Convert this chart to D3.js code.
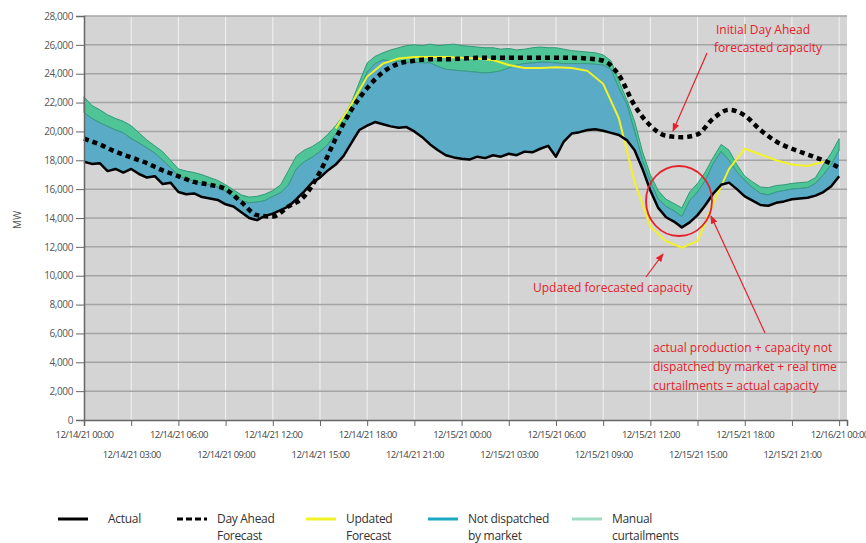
<!DOCTYPE html>
<html>
<head>
<meta charset="utf-8">
<script src="https://cdn.jsdelivr.net/npm/d3@7"></script>
<style>
  body { margin: 0; background: #fff; }
  svg { display: block; }
</style>
</head>
<body>
<svg id="chart" width="866" height="543"></svg>
<script>
// half-hourly readings, 12/14/21 00:00 .. 12/16/21 00:00
var actual = [17900, 17750, 17800, 17250, 17400, 17150, 17400, 17050, 16800, 16900,
  16350, 16450, 15800, 15650, 15700, 15450, 15350, 15250, 14950, 14800,
  14400, 14000, 13850, 14150, 14300, 14550, 14800, 15300, 15850, 16450,
  16800, 17300, 17700, 18300, 19200, 20100, 20400, 20650, 20500, 20350,
  20250, 20300, 20000, 19600, 19100, 18700, 18350, 18200, 18100, 18050,
  18250, 18150, 18350, 18250, 18450, 18350, 18600, 18550, 18800, 19000,
  18250, 19300, 19850, 19950, 20100, 20150, 20050, 19900, 19750, 19400,
  18700, 17400, 15900, 14700, 14050, 13750, 13350, 13700, 14200, 14900,
  15700, 16300, 16450, 16000, 15500, 15200, 14900, 14850, 15050, 15150,
  15300, 15350, 15400, 15550, 15800, 16200, 16900];

// actual + capacity not dispatched by market
var notDispatched = [21300, 20900, 20600, 20350, 20100, 19900, 19500, 19200, 18850, 18500,
  18000, 17500, 16900, 16700, 16550, 16400, 16300, 16150, 15850, 15500,
  15200, 15050, 15100, 15200, 15500, 15750, 16300, 17400, 17900, 18200,
  18600, 19100, 19800, 20500, 21300, 22800, 24100, 24700, 24950, 24900,
  24850, 24800, 24800, 24750, 24750, 24500, 24300, 24250, 24200, 24150,
  24100, 24050, 24100, 24200, 24400, 24600, 24700, 24750, 24800, 24800,
  24750, 24700, 24700, 24700, 24700, 24650, 24600, 24300, 23000, 21900,
  20000, 18000, 16500, 15300, 14800, 14500, 14100, 15200, 15800, 16600,
  17800, 18600, 18000, 17200, 16600, 16100, 15700, 15600, 15800, 15900,
  16000, 16050, 16100, 16400, 17000, 17700, 18700];

// + manual curtailments (actual capacity)
var manual = [22400, 21800, 21500, 21150, 20900, 20700, 20400, 19900, 19400, 19000,
  18600, 18000, 17400, 17250, 17150, 17000, 16800, 16600, 16300, 15950,
  15600, 15450, 15500, 15650, 15900, 16300, 17300, 18300, 18700, 18950,
  19300, 19800, 20400, 21100, 22000, 23400, 24750, 25200, 25450, 25650,
  25800, 25950, 26000, 25950, 26050, 25950, 26000, 26050, 25950, 25900,
  25850, 25800, 25800, 25700, 25750, 25650, 25700, 25800, 25850, 25800,
  25800, 25700, 25600, 25550, 25500, 25450, 25300, 24900, 23500, 22200,
  20700, 18600, 17000, 15900, 15300, 15000, 14700, 15800, 16400, 17200,
  18200, 19100, 18700, 17700, 16900, 16500, 16150, 16100, 16250, 16300,
  16400, 16450, 16500, 16800, 17700, 18500, 19500];

// hourly day ahead forecast
var dayAhead = [19500, 19100, 18600, 18200, 17800, 17300, 16900, 16500, 16300, 16000,
  15100, 14200, 14100, 14800, 15500, 17200, 19500, 21500, 23000, 24100,
  24700, 24900, 25000, 25000, 25050, 25100, 25100, 25100, 25100, 25100,
  25100, 25100, 25050, 24900, 23900, 21800, 20400, 19700, 19600, 19800,
  20900, 21500, 21100, 20100, 19300, 18800, 18400, 18000, 17500];

// hourly updated forecast, from hour 16 to hour 47
var updatedStart = 16;
var updated = [20200, 21900, 23800, 24700, 25050, 25150, 25150, 25150, 25100, 25050,
  24950, 24600, 24400, 24400, 24450, 24400, 24200, 23300, 20900, 16500,
  13400, 12400, 11950, 12400, 15000, 17400, 18800, 18400, 18000, 17700,
  17600, 17900];

var yTicks = [0, 2000, 4000, 6000, 8000, 10000, 12000, 14000, 16000, 18000, 20000, 22000, 24000, 26000, 28000];

var legendItems = [
  { label: ["Actual"], color: "#000", dash: null },
  { label: ["Day Ahead", "Forecast"], color: "#000", dash: "6,3" },
  { label: ["Updated", "Forecast"], color: "#f2f226", dash: null },
  { label: ["Not dispatched", "by market"], color: "#1aa9c1", dash: null },
  { label: ["Manual", "curtailments"], color: "#9fdcc2", dash: null }
];

var svg = d3.select("#chart");
var start = new Date(2021, 11, 14, 0, 0);
function hour(h) { return new Date(start.getTime() + h * 3600000); }

var x = d3.scaleTime().domain([start, hour(48.5)]).range([84, 847]);
var y = d3.scaleLinear().domain([0, 28000]).range([420, 16]);

// plot background
svg.append("rect")
  .attr("x", 84).attr("y", 16)
  .attr("width", 847 - 84).attr("height", 420 - 16)
  .attr("fill", "#d4d4d4");

// vertical grid (white)
var xTicks = d3.range(0, 49, 3).map(hour);
svg.append("g")
  .selectAll("line")
  .data(xTicks.slice(1))
  .enter()
  .append("line")
  .attr("x1", function (d) { return x(d); })
  .attr("x2", function (d) { return x(d); })
  .attr("y1", 16).attr("y2", 420)
  .attr("stroke", "#f2f2f2")
  .attr("stroke-width", 1);

// horizontal grid
svg.append("g")
  .selectAll("line")
  .data(yTicks.slice(1))
  .enter()
  .append("line")
  .attr("x1", 84).attr("x2", 847)
  .attr("y1", function (d) { return y(d); })
  .attr("y2", function (d) { return y(d); })
  .attr("stroke", "#a4a4a4")
  .attr("stroke-width", 1.5);

var rows = actual.map(function (a, i) {
  return { t: hour(i / 2), actual: a, nd: notDispatched[i], man: manual[i] };
});

// manual curtailments band
svg.append("path")
  .datum(rows)
  .attr("d", d3.area()
    .x(function (d) { return x(d.t); })
    .y0(function (d) { return y(d.nd); })
    .y1(function (d) { return y(d.man); }))
  .attr("fill", "#4fc497")
  .attr("stroke", "#2f9a7a")
  .attr("stroke-width", 1);

// not dispatched band
svg.append("path")
  .datum(rows)
  .attr("d", d3.area()
    .x(function (d) { return x(d.t); })
    .y0(function (d) { return y(d.actual); })
    .y1(function (d) { return y(d.nd); }))
  .attr("fill", "#5aabc6");

svg.append("path")
  .datum(rows)
  .attr("d", d3.line()
    .x(function (d) { return x(d.t); })
    .y(function (d) { return y(d.nd); }))
  .attr("fill", "none")
  .attr("stroke", "#3a9a86")
  .attr("stroke-width", 1);

// updated forecast
svg.append("path")
  .datum(updated)
  .attr("d", d3.line()
    .x(function (d, i) { return x(hour(updatedStart + i)); })
    .y(function (d) { return y(d); }))
  .attr("fill", "none")
  .attr("stroke", "#f2f226")
  .attr("stroke-width", 2);

// day ahead forecast
svg.append("path")
  .datum(dayAhead)
  .attr("d", d3.line()
    .curve(d3.curveMonotoneX)
    .x(function (d, i) { return x(hour(i)); })
    .y(function (d) { return y(d); }))
  .attr("fill", "none")
  .attr("stroke", "#000")
  .attr("stroke-width", 4.5)
  .attr("stroke-dasharray", "5,4");

// actual
svg.append("path")
  .datum(rows)
  .attr("d", d3.line()
    .x(function (d) { return x(d.t); })
    .y(function (d) { return y(d.actual); }))
  .attr("fill", "none")
  .attr("stroke", "#000")
  .attr("stroke-width", 2.5)
  .attr("stroke-linejoin", "round");

// y axis
var yAxis = svg.append("g")
  .attr("transform", "translate(84,0)")
  .call(d3.axisLeft(y).tickValues(yTicks).tickSize(8).tickFormat(d3.format(",")));
yAxis.select(".domain").attr("stroke", "#666").attr("stroke-width", 1.5);
yAxis.selectAll(".tick line").attr("stroke", "#666");
yAxis.selectAll("text")
  .attr("fill", "#555")
  .style("font-family", "Open Sans")
  .style("font-size", "10px")
  .style("letter-spacing", "-0.4px");

// x axis
var xAxis = svg.append("g")
  .attr("transform", "translate(0,420)")
  .call(d3.axisBottom(x).tickValues(xTicks).tickSize(6).tickFormat(d3.timeFormat("%m/%d/%y %H:%M")));
xAxis.select(".domain").attr("stroke", "#666").attr("stroke-width", 1.5);
xAxis.selectAll(".tick line").attr("stroke", "#666");
xAxis.selectAll("text")
  .attr("fill", "#444")
  .attr("y", function (d, i) { return i % 2 === 0 ? 11 : 31; })
  .style("font-family", "Open Sans")
  .style("font-size", "9.5px")
  .style("letter-spacing", "-0.6px");

svg.append("text")
  .attr("transform", "translate(21,220) rotate(-90)")
  .attr("text-anchor", "middle")
  .attr("fill", "#555")
  .style("font-family", "Open Sans")
  .style("font-size", "10px")
  .text("MW");

// annotations
var red = "#e5202a";
svg.append("defs").append("marker")
  .attr("id", "arrow")
  .attr("viewBox", "0 0 10 10")
  .attr("refX", 9).attr("refY", 5)
  .attr("markerWidth", 7).attr("markerHeight", 7)
  .attr("orient", "auto")
  .append("path")
  .attr("d", "M0,1 L10,5 L0,9 z")
  .attr("fill", red);

var arrows = [[707, 53, 673, 131], [646, 277, 663, 254], [765, 333, 711, 216]];
svg.append("g")
  .selectAll("line")
  .data(arrows)
  .enter()
  .append("line")
  .attr("x1", function (d) { return d[0]; })
  .attr("y1", function (d) { return d[1]; })
  .attr("x2", function (d) { return d[2]; })
  .attr("y2", function (d) { return d[3]; })
  .attr("stroke", red)
  .attr("stroke-width", 1.2)
  .attr("marker-end", "url(#arrow)");

svg.append("ellipse")
  .attr("cx", 679).attr("cy", 201)
  .attr("rx", 33).attr("ry", 35)
  .attr("fill", "none")
  .attr("stroke", red)
  .attr("stroke-width", 1.8);

var notes = [
  { x: 716, y: 34, t: "Initial Day Ahead" },
  { x: 714, y: 52, t: "forecasted capacity" },
  { x: 533, y: 292, t: "Updated forecasted capacity" },
  { x: 653, y: 352, t: "actual production + capacity not" },
  { x: 653, y: 371, t: "dispatched by market + real time" },
  { x: 653, y: 390, t: "curtailments = actual capacity" }
];
svg.append("g")
  .selectAll("text")
  .data(notes)
  .enter()
  .append("text")
  .attr("x", function (d) { return d.x; })
  .attr("y", function (d) { return d.y; })
  .attr("fill", red)
  .style("font-family", "Open Sans")
  .style("font-size", "12px")
  .text(function (d) { return d.t; });

// legend
var legendX = [58, 177, 306, 428, 572];
var lg = svg.append("g")
  .selectAll("g")
  .data(legendItems)
  .enter()
  .append("g")
  .attr("transform", function (d, i) { return "translate(" + legendX[i] + ",519)"; });
lg.append("line")
  .attr("x1", 0).attr("x2", 30)
  .attr("stroke", function (d) { return d.color; })
  .attr("stroke-width", 3)
  .attr("stroke-dasharray", function (d) { return d.dash; });
lg.each(function (d) {
  var g = d3.select(this);
  d.label.forEach(function (s, k) {
    g.append("text")
      .attr("x", d.label[0] === "Actual" ? 50 : 40)
      .attr("y", 4 + k * 17)
      .attr("fill", "#333")
      .style("font-family", "Open Sans")
      .style("font-size", "12px")
      .style("letter-spacing", "-0.3px")
      .text(s);
  });
});
</script>
</body>
</html>
